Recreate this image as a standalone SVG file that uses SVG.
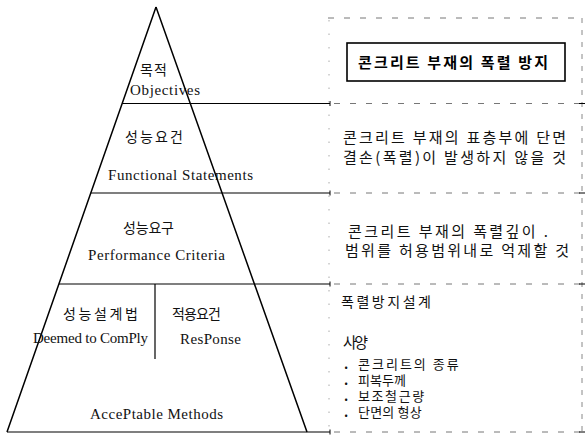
<svg xmlns="http://www.w3.org/2000/svg" width="588" height="437" viewBox="0 0 588 437">
<style>
  .kr { font-family: "Noto Sans CJK KR", "Noto Sans", sans-serif; font-size: 14px; fill: #111; }
  .kr13 { font-family: "Noto Sans CJK KR", "Noto Sans", sans-serif; font-size: 13px; fill: #111; }
  .kr15 { font-family: "Noto Sans CJK KR", "Noto Sans", sans-serif; font-size: 15px; fill: #111; }
  .en { font-family: "Liberation Serif", "Times New Roman", serif; font-size: 15px; fill: #111; }
  .title { font-family: "Noto Sans CJK KR", "Noto Sans", sans-serif; font-size: 15px; font-weight: bold; fill: #000; }
  .solid { stroke: #000; stroke-width: 1.2; fill: none; }
  .tri { stroke: #000; stroke-width: 1.5; fill: none; }
  .dash { stroke: #777; stroke-width: 1; stroke-dasharray: 6 10; fill: none; }
  .dashv { stroke: #888; stroke-width: 1; stroke-dasharray: 5 7; fill: none; }
  .dot { stroke: #aaa; stroke-width: 1; stroke-dasharray: 1.5 12; fill: none; }
  .tick { stroke: #000; stroke-width: 1; }
</style>

<g id="connectors">
  <path class="tri" d="M156,7 L7,432 M156,7 L307,432"/>
  <line class="solid" x1="122" y1="103.5" x2="330" y2="103.5"/>
  <line class="solid" x1="91" y1="193" x2="330" y2="193"/>
  <line class="solid" x1="59" y1="284" x2="330" y2="284"/>
  <line class="solid" x1="7" y1="432" x2="330" y2="432"/>
  <line class="solid" x1="155" y1="284" x2="155" y2="359"/>
  <line class="tick" x1="330" y1="101" x2="330" y2="106"/>
  <line class="tick" x1="330" y1="190.5" x2="330" y2="195.5"/>
  <line class="tick" x1="330" y1="281.5" x2="330" y2="286.5"/>
  <line class="tick" x1="330" y1="429.5" x2="330" y2="434.5"/>
  <line class="dash" x1="328" y1="18" x2="582" y2="18"/>
  <line class="dash" x1="334" y1="103.5" x2="582" y2="103.5"/>
  <line class="dash" x1="334" y1="193" x2="582" y2="193"/>
  <line class="dash" x1="334" y1="284" x2="582" y2="284"/>
  <line class="dash" x1="334" y1="432" x2="582" y2="432"/>
  <line class="dashv" x1="582" y1="18" x2="582" y2="437"/>
  <line class="dot" x1="329" y1="20" x2="329" y2="430"/>
  <line class="tick" x1="579" y1="103.5" x2="585" y2="103.5"/>
  <line class="tick" x1="579" y1="193" x2="585" y2="193"/>
  <line class="tick" x1="579" y1="284" x2="585" y2="284"/>
  <line class="tick" x1="579" y1="432" x2="585" y2="432"/>
</g>

<g id="objectives">
  <text class="kr" x="140" y="75" textLength="27" lengthAdjust="spacing">목적</text>
  <text class="en" x="130" y="95" textLength="70" lengthAdjust="spacing">Objectives</text>
</g>

<g id="functional-statements">
  <text class="kr" x="125" y="142" textLength="58" lengthAdjust="spacing">성능요건</text>
  <text class="en" x="108" y="180" textLength="145" lengthAdjust="spacing">Functional Statements</text>
</g>

<g id="performance-criteria">
  <text class="kr" x="123" y="233" textLength="51" lengthAdjust="spacing">성능요구</text>
  <text class="en" x="88" y="260" textLength="137" lengthAdjust="spacing">Performance Criteria</text>
</g>

<g id="deemed-to-comply">
  <text class="kr" x="63" y="319" textLength="75" lengthAdjust="spacing">성능설계법</text>
  <text class="en" x="33" y="343" textLength="115" lengthAdjust="spacing">Deemed to ComPly</text>
</g>

<g id="response">
  <text class="kr" x="172" y="319" textLength="49" lengthAdjust="spacing">적용요건</text>
  <text class="en" x="180" y="344" textLength="61" lengthAdjust="spacing">ResPonse</text>
</g>

<g id="acceptable-methods">
  <text class="en" x="90" y="419" textLength="133" lengthAdjust="spacing">AccePtable Methods</text>
</g>

<g id="goal">
  <rect x="347" y="43" width="218" height="38" fill="#fff" stroke="#000" stroke-width="1.6"/>
  <text class="title" x="358" y="68" textLength="190" lengthAdjust="spacing">콘크리트 부재의 폭렬 방지</text>
</g>

<g id="functional-text">
  <text class="kr15" x="343" y="142.5" textLength="223" lengthAdjust="spacing">콘크리트 부재의 표층부에 단면</text>
  <text class="kr15" x="343" y="162.5" textLength="223" lengthAdjust="spacing">결손(폭렬)이 발생하지 않을 것</text>
</g>

<g id="criteria-text">
  <text class="kr15" x="348" y="236.5" textLength="200" lengthAdjust="spacing">콘크리트 부재의 폭렬깊이 .</text>
  <text class="kr15" x="345" y="255.5" textLength="224" lengthAdjust="spacing">범위를 허용범위내로 억제할 것</text>
</g>

<g id="methods-text">
  <text class="kr" x="341" y="306.5" textLength="90" lengthAdjust="spacing">폭렬방지설계</text>
  <text class="kr15" x="343" y="347.5" textLength="25" lengthAdjust="spacing">사양</text>
  <text class="kr13" y="368.5"><tspan x="344" font-weight="bold">.</tspan><tspan x="358" letter-spacing="2">콘크리트의 종류</tspan></text>
  <text class="kr13" y="384.5"><tspan x="344" font-weight="bold">.</tspan><tspan x="358">피복두께</tspan></text>
  <text class="kr13" y="401"><tspan x="344" font-weight="bold">.</tspan><tspan x="358" letter-spacing="1.6">보조철근량</tspan></text>
  <text class="kr13" y="416.5"><tspan x="344" font-weight="bold">.</tspan><tspan x="358" letter-spacing="0.2">단면의 형상</tspan></text>
</g>
</svg>
